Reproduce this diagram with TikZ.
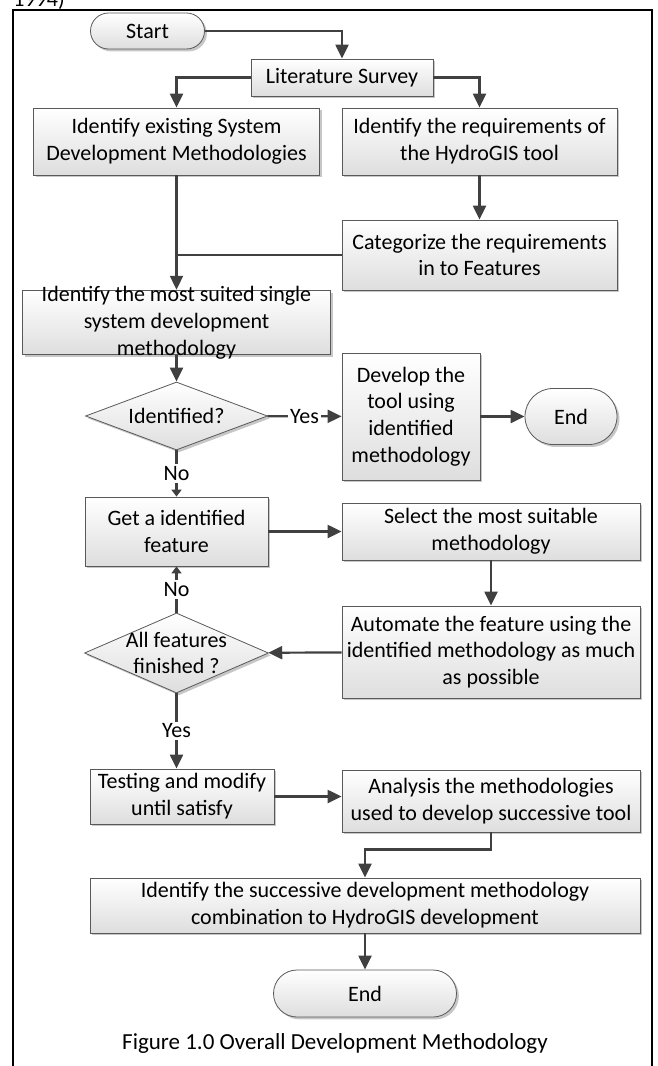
\documentclass[tikz,border=0pt]{standalone}
\usepackage{fontspec}
\setmainfont{Carlito}
\usetikzlibrary{shapes.geometric,arrows.meta,shadows}
\tikzstyle{block} = [rectangle, draw=black!65, line width=0.4pt, top color=white, bottom color=black!13, align=center, inner sep=2pt, drop shadow={shadow xshift=1.2pt, shadow yshift=-1.2pt, fill=black!22, opacity=1}]
\tikzstyle{terminal} = [block]
\tikzstyle{decision} = [diamond, draw=black!65, line width=0.4pt, top color=white, bottom color=black!13, align=center, inner sep=0pt, drop shadow={shadow xshift=1.2pt, shadow yshift=-1.2pt, fill=black!22, opacity=1}]
\tikzstyle{conn} = [draw=black!75, line width=1.1pt]
\tikzstyle{flow} = [conn, -{Triangle[length=7pt,width=6.5pt]}]
\tikzstyle{flowsmall} = [conn, -{Triangle[length=3.5pt,width=5pt]}]
\tikzstyle{lbl} = [fill=white, inner sep=1pt]

\begin{document}
\begin{tikzpicture}[x=0.5pt, y=-0.5pt, font=\fontsize{11pt}{13.4pt}\selectfont]
\useasboundingbox (0,0) rectangle (658,1066);

% page frame and cut-off text above it
\node[anchor=base west, inner sep=0pt] (yr) at (13,6) {1994)};
\draw[line width=1pt] (12.6,1066) -- (12.6,10) -- (652,10) -- (652,1066);

% top part
\node[terminal, rounded corners=9pt, minimum width=57pt, minimum height=18pt] (start) at (147.5,31) {Start};
\node[block, minimum width=91pt, minimum height=18.5pt] (lit) at (342,77.5) {Literature Survey};
\node[block, minimum width=143pt, minimum height=33.5pt] (existing) at (176.5,141.5) {Identify existing System\\Development Methodologies};
\node[block, minimum width=137.5pt, minimum height=33.5pt] (req) at (479.5,141.5) {Identify the requirements of\\the HydroGIS tool};
\node[block, minimum width=137.5pt, minimum height=35pt] (categ) at (479.5,255) {Categorize the requirements\\in to Features};
\node[block, minimum width=154pt, inner ysep=-2pt] (suited) at (176.5,322.5) {Identify the most suited single\\system development\\methodology};

% first decision
\node[decision, aspect=2.68, minimum width=91pt, minimum height=34pt] (ident) at (176.5,416) {Identified?};
\node[block, minimum width=69pt, minimum height=63.5pt] (develop) at (411,416.5) {Develop the\\tool using\\identified\\methodology};
\node[terminal, rounded corners=14pt, minimum width=46pt, minimum height=28pt] (enda) at (571,416.5) {End};

% feature loop
\node[block, minimum width=91.5pt, minimum height=34.5pt] (getf) at (176.5,531.5) {Get a identified\\feature};
\node[block, minimum width=149pt, minimum height=28.5pt] (select) at (491,531.5) {Select the most suitable\\methodology};
\node[block, minimum width=149pt, minimum height=46pt] (automate) at (491,652) {Automate the feature using the\\identified methodology as much\\as possible};
\node[decision, aspect=2.3, inner sep=-1.7pt, minimum width=92pt, minimum height=40pt] (allf) at (176.5,653) {All features\\finished ?};

% bottom part
\node[block, minimum width=92pt, minimum height=27.5pt] (testing) at (182,796.5) {Testing and modify\\until satisfy};
\node[block, minimum width=149pt, minimum height=31pt] (analysis) at (491,801) {Analysis the methodologies\\used to develop successive tool};
\node[block, minimum width=275pt, minimum height=27.5pt] (successive) at (365,905.5) {Identify the successive development methodology\\combination to HydroGIS development};
\node[terminal, rounded corners=11.75pt, minimum width=91.5pt, minimum height=23.5pt] (endb) at (365,993.5) {End};

\node[font=\fontsize{11.5pt}{14pt}\selectfont] (caption) at (335,1043) {Figure 1.0 Overall Development Methodology};

% connectors
\draw[flow] (start) -| (lit);
\draw[flow] (lit) -| (existing);
\draw[flow] (lit) -| (req);
\draw[flow] (existing) -- (suited);
\draw[flow] (req) -- (categ);
\draw[conn] (categ.west) -- (categ.west -| existing.south);
\draw[flow] (suited) -- (ident);
\draw[flow] (ident) -- node[lbl]{Yes} (develop);
\draw[flow] (develop) -- (enda);
\draw[flowsmall] (ident) -- node[lbl]{No} (getf);
\draw[flow] (getf) -- (select);
\draw[flow] (select) -- (automate);
\draw[flow] (automate) -- (allf);
\draw[flowsmall] (allf) -- node[lbl]{No} (getf);
\draw[flow] (allf.south) -- node[lbl]{Yes} (allf.south |- testing.north);
\draw[flow] (testing.east) -- (testing.east -| analysis.west);
\draw[flow] (analysis.south) -- ++(0,17) -| (successive.north);
\draw[flow] (successive) -- (endb);

\end{tikzpicture}
\end{document}
